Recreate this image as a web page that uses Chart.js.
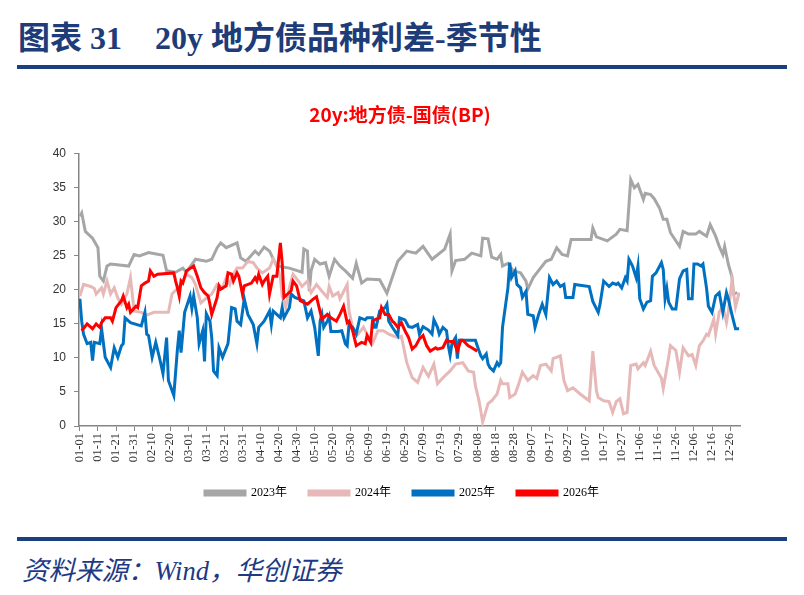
<!DOCTYPE html>
<html>
<head>
<meta charset="utf-8">
<script src="https://cdn.jsdelivr.net/npm/chart.js@4.4.1/dist/chart.umd.min.js"></script>
<style>
  body { margin: 0; background: #fff; }
  #page { position: relative; width: 804px; height: 595px; overflow: hidden; }
  #titre { position: absolute; left: 18px; top: 12px; font: bold 32px "Liberation Serif", "Noto Sans CJK SC"; color: #1d3c78; white-space: nowrap; }
  #titre span { margin-left: 33px; }
  .barre { position: absolute; left: 17px; width: 770px; height: 4px; background: #1a3f82; }
  #fonte { position: absolute; left: 22px; top: 549px; font: italic 26.5px "Liberation Serif", "Noto Sans CJK SC"; color: #1e3a84; white-space: nowrap; }
  #boite { position: absolute; left: 0; top: 90px; width: 804px; height: 419px; }
</style>
</head>
<body>
<div id="page">
  <div id="titre">图表 31<span>20y 地方债品种利差-季节性</span></div>
  <div class="barre" style="top:65px"></div>
  <div id="boite"><canvas id="grafico" width="804" height="419"></canvas></div>
  <div class="barre" style="top:537px"></div>
  <div id="fonte">资料来源：Wind，华创证券</div>
</div>

<script>
// eixo x: dia do ano (calendario bissexto), rotulo a cada 10 dias
const tickDias = [0, 10, 20, 30, 40, 50, 60, 70, 80, 90, 100, 110, 120, 130, 140, 150, 160, 170, 180,
  190, 200, 210, 220, 230, 240, 250, 260, 270, 280, 290, 300, 310, 320, 330, 340, 350, 360];
const tickRotulos = ["01-01", "01-11", "01-21", "01-31", "02-10", "02-20", "03-01", "03-11", "03-21", "03-31",
  "04-10", "04-20", "04-30", "05-10", "05-20", "05-30", "06-09", "06-19", "06-29", "07-09", "07-19", "07-29",
  "08-08", "08-18", "08-28", "09-07", "09-17", "09-27", "10-07", "10-17", "10-27", "11-06", "11-16", "11-26",
  "12-06", "12-16", "12-26"];

const anos = ["2023年", "2024年", "2025年", "2026年"];

// 2023
const dias2023 = [0, 1, 3, 7, 10, 11, 13, 15, 17, 27,
  30, 33, 38, 46, 48, 53, 57, 59, 64, 70,
  73, 76, 78, 81, 87, 89, 92, 97, 99, 102,
  105, 109, 116, 123, 124, 126, 127, 128, 130, 133,
  136, 138, 141, 144, 147, 151, 153, 156, 159, 166,
  170, 176, 181, 186, 190, 195, 202, 205, 206, 208,
  213, 217, 222, 223, 226, 228, 231, 233, 234, 237,
  240, 244, 247, 248, 251, 253, 258, 261, 264, 267,
  270, 272, 283, 284, 286, 292, 297, 299, 303, 305,
  307, 309, 312, 313, 316, 318, 321, 323, 325, 327,
  332, 334, 337, 341, 343, 347, 349, 352, 354, 356,
  357, 359, 361, 362, 364];
const spread2023 = [30.8, 31.3, 28.6, 27.6, 26.2, 22, 21.3, 23.5, 23.8, 23.5,
  25.2, 25, 25.5, 25.1, 22.8, 22.6, 23.2, 22.6, 24.5, 24.2,
  24.5, 26.2, 26.9, 26.2, 26.9, 24.7, 24.2, 25.7, 25.2, 26.3,
  25.7, 23.5, 23.2, 22.6, 26, 25.7, 19.8, 22.8, 24.5, 23.8,
  24, 22, 24.5, 23.5, 22.8, 21.7, 23.9, 21, 21.6, 21.5,
  19.5, 24.2, 25.7, 25.4, 26.4, 24.5, 26, 28.2, 22.8, 24.3,
  24.5, 25.4, 25, 27.6, 27.5, 24.8, 24.5, 25.2, 23.5, 23.9,
  22.8, 22.5, 21.3, 20.1, 21.8, 22.5, 24.2, 24.5, 26.2, 25.2,
  25, 27.4, 27.4, 29.1, 27.8, 27.2, 28.2, 28.9, 28.7, 36.2,
  35, 35.5, 33.3, 34.2, 34, 33.4, 32, 30.4, 30.4, 28.4,
  26.4, 28.6, 28.2, 28.2, 28.6, 27.9, 29.6, 27.9, 26.4, 25.2,
  26.4, 23.8, 22, 19.4, 19.6];

// 2024
const dias2024 = [0, 2, 6, 8, 9, 12, 13, 15, 17, 19,
  21, 23, 26, 28, 30, 34, 37, 41, 49, 51,
  54, 57, 59, 62, 64, 67, 70, 73, 76, 79,
  81, 83, 84, 87, 90, 93, 96, 98, 101, 105,
  107, 109, 111, 112, 114, 116, 118, 121, 123, 126,
  128, 131, 134, 137, 138, 140, 143, 144, 148, 149,
  151, 154, 157, 159, 162, 165, 168, 171, 176, 178,
  181, 184, 187, 190, 193, 196, 198, 201, 205, 208,
  212, 215, 218, 219, 221, 223, 226, 228, 231, 233,
  234, 237, 238, 241, 243, 245, 248, 251, 253, 255,
  258, 261, 262, 266, 268, 270, 273, 277, 282, 284,
  286, 287, 290, 293, 295, 297, 299, 301, 303, 305,
  308, 309, 312, 313, 315, 316, 318, 322, 323, 326,
  327, 330, 332, 334, 337, 339, 341, 343, 345, 347,
  348, 351, 352, 354, 356, 358, 359, 361, 363, 365];
const spread2024 = [19.1, 20.8, 20.5, 20.2, 19.4, 20.3, 19.4, 21.3, 19.4, 20.3,
  18.8, 17.9, 19.4, 21.8, 16.9, 16.7, 16.3, 16.7, 16.7, 19.4,
  20.2, 21.3, 22.3, 21.8, 20.8, 18.1, 18.8, 19.4, 20.8, 20.3,
  21.8, 20.8, 21.8, 23.2, 23.2, 24.2, 24, 23.2, 22.5, 23.2,
  24.5, 23.7, 21.8, 19.1, 17.4, 20.3, 22.3, 21.3, 20.5, 21.3,
  19.6, 20.8, 19.8, 18.9, 20.5, 19.1, 19.6, 18.7, 20.8, 16.9,
  14.5, 13.5, 14.5, 13.5, 12.1, 14, 14, 13.5, 13, 13.2,
  9.3, 7.1, 6.4, 8.6, 7.3, 9.1, 6.2, 7.1, 8.1, 9.1,
  9.3, 8.1, 7.9, 5.9, 3.7, 0.6, 3.3, 3.7, 4.7, 6.7,
  6.2, 6.2, 4.2, 4.7, 6.2, 7.9, 6.7, 7.4, 7, 8.9,
  9.1, 8.1, 9.9, 10.3, 6.7, 5.2, 5.6, 4.7, 3.7, 11,
  5.2, 4.2, 3.7, 3.6, 2, 3.6, 4, 1.8, 2, 8.9,
  9.1, 8.4, 9.3, 8.9, 10.3, 11, 8.9, 7, 5.5, 10.1,
  11.8, 11.1, 7.9, 11.5, 10.3, 10.5, 8.9, 11.8, 12.5, 13.5,
  13.3, 15.7, 13.5, 16.7, 17.6, 15.2, 16.7, 21.3, 17.5, 19.6];

// 2025
const dias2025 = [0, 1, 2, 4, 6, 7, 8, 11, 12, 14,
  17, 19, 21, 23, 24, 25, 28, 34, 36, 37,
  38, 40, 42, 44, 46, 48, 49, 52, 54, 55,
  56, 58, 61, 62, 63, 65, 66, 68, 69, 70,
  72, 73, 74, 76, 77, 79, 82, 84, 86, 87,
  89, 91, 93, 96, 98, 99, 102, 105, 106, 107,
  109, 111, 112, 113, 116, 117, 119, 124, 126, 128,
  130, 132, 133, 134, 135, 137, 138, 139, 143, 145,
  147, 148, 149, 151, 153, 155, 158, 159, 162, 163,
  164, 166, 169, 170, 171, 173, 176, 177, 180, 182,
  184, 187, 188, 190, 193, 195, 196, 198, 199, 201,
  203, 204, 205, 206, 208, 209, 210, 212, 215, 219,
  220, 222, 223, 225, 226, 227, 229, 231, 232, 233,
  234, 237, 238, 239, 241, 242, 244, 245, 247, 248,
  251, 252, 254, 256, 258, 260, 262, 264, 266, 268,
  269, 273, 274, 282, 284, 287, 288, 290, 293, 295,
  297, 298, 300, 302, 303, 304, 306, 308, 309, 310,
  312, 314, 316, 317, 319, 322, 323, 324, 325, 326,
  328, 330, 332, 334, 336, 337, 339, 340, 342, 344,
  345, 347, 348, 350, 352, 354, 356, 358, 359, 361,
  363, 365];
const spread2025 = [18.7, 15.4, 13.5, 12.1, 12.3, 9.6, 12.3, 12.1, 14.3, 10.1,
  8.6, 11.5, 10.1, 11.8, 12.1, 15.9, 15.2, 14.7, 16.7, 13.5,
  13.3, 10.1, 12.3, 10.1, 7.7, 13, 6.7, 4.5, 11.3, 14,
  10.8, 16.7, 19.1, 17.3, 19.1, 15.9, 12.1, 14, 9.5, 16.5,
  15.4, 13, 8.1, 7.4, 11.5, 10.1, 12.1, 17.4, 17.2, 15.4,
  14.9, 18.7, 16.4, 14.9, 12.1, 14.5, 15.4, 16.9, 14.9, 16.9,
  16.4, 15.9, 17.4, 15.9, 17.4, 19.4, 18.9, 18.4, 15.9, 16.9,
  14.5, 10.3, 15.4, 16.4, 14.5, 15.4, 16.1, 13.9, 13.9, 14,
  12.1, 11.8, 14.9, 14.5, 13.5, 15.9, 15.6, 15.9, 15.9, 14.5,
  14.5, 16.9, 17.4, 17.9, 15.4, 14.5, 13.3, 15.9, 15.6, 14.6,
  14.5, 14.9, 13.5, 14.6, 14.1, 13.5, 15.6, 14.5, 13.5, 14.5,
  14, 11.8, 10.4, 12.1, 13, 9.9, 12.6, 12.6, 12.6, 12.6,
  11.8, 10.3, 9.9, 10.6, 9.1, 8.6, 8.1, 9.3, 8.9, 9.3,
  14.5, 20.3, 24, 21.8, 22.8, 20.8, 20.3, 18.9, 19.8, 16.4,
  16.2, 14.5, 16.4, 17.9, 16.4, 21.8, 20.8, 21.3, 20.5, 20.8,
  18.9, 18.9, 20.8, 20.5, 18.3, 16.7, 17.9, 21.3, 20.5, 21,
  20.8, 21, 20.3, 21.8, 21.3, 24.5, 23.5, 21.8, 23.5, 18.7,
  17.2, 18.2, 18.4, 22, 22.5, 24, 23, 18.7, 20.2, 18.2,
  17.2, 17.2, 21.6, 22.8, 23, 18.7, 18.7, 23.8, 23.8, 23.5,
  23.8, 20.2, 17.6, 16.7, 19.1, 19.6, 16.7, 19.6, 18.7, 16.4,
  14.3, 14.3];

// 2026
const dias2026 = [1, 4, 7, 9, 11, 12, 14, 17, 18, 20,
  23, 24, 26, 27, 28, 31, 32, 34, 36, 38,
  39, 41, 43, 52, 53, 54, 55, 56, 57, 59,
  63, 65, 67, 69, 71, 72, 73, 76, 77, 78,
  81, 82, 84, 85, 87, 88, 90, 91, 95, 97,
  98, 99, 101, 102, 104, 105, 107, 109, 111, 112,
  113, 115, 117, 118, 120, 122, 126, 129, 131, 134,
  137, 139, 142, 144, 146, 148, 149, 151, 153, 156,
  158, 159, 161, 162, 164, 166, 167, 169, 171, 173,
  174, 176, 178, 180, 182, 184, 186, 188, 190, 192,
  194, 197, 198, 201, 203, 205, 207, 209, 211, 212,
  215, 217, 220];
const spread2026 = [14, 15, 14.3, 15, 14.5, 15.2, 15.9, 15.9, 15.4, 17.4,
  18.4, 19.1, 17.4, 17.9, 16.7, 17.6, 17.4, 20.6, 21, 21.3,
  22.8, 22, 22.3, 22.5, 21.3, 20.3, 19.1, 21.3, 21, 22.8,
  23.5, 22, 20.3, 19.6, 19.1, 17.9, 16.4, 18.9, 20.6, 20.1,
  20.6, 22.5, 22.3, 21.3, 22.5, 22, 19.4, 20.6, 21, 21.8,
  21.3, 22.3, 20.8, 21.3, 22, 19.4, 22, 22, 26.9, 24,
  18.9, 19.4, 19.9, 21.3, 20.6, 18.4, 17.9, 18.6, 19, 15.7,
  16.4, 15.9, 15.4, 16.4, 17.6, 15.2, 15.4, 14, 11.8, 12.3,
  12.1, 13.3, 12.3, 15.4, 15.7, 15.9, 17.4, 16.4, 16.4, 15.4,
  15.2, 14.5, 15.2, 14, 13, 11.3, 11.8, 12.8, 13.3, 11.8,
  11, 11.5, 11.3, 11.5, 12.6, 12.4, 12.4, 11, 12.6, 12.6,
  11.8, 11.5, 11];

const cores = ["#a6a6a6", "#e6b9b8", "#0070c0", "#ff0000"];

function serie(dias, valores) {
  return dias.map((d, i) => ({ x: d, y: valores[i] }));
}

const series = [
  serie(dias2023, spread2023),
  serie(dias2024, spread2024),
  serie(dias2025, spread2025),
  serie(dias2026, spread2026)
];

const corEixo = "#868686";

// empurra legenda e titulo um pouco para a direita (como no original)
const desloca = {
  id: "desloca",
  afterLayout(chart) {
    chart.legend.left += 15;
    chart.legend.right += 15;
    chart.titleBlock.left += 13;
    chart.titleBlock.right += 13;
  }
};

new Chart(document.getElementById("grafico"), {
  type: "line",
  data: {
    datasets: series.map((dados, i) => ({
      label: anos[i],
      data: dados,
      borderColor: cores[i],
      backgroundColor: cores[i],
      borderWidth: 3,
      pointRadius: 0,
      tension: 0,
      order: 4 - i   // 2026 por cima
    }))
  },
  options: {
    responsive: false,
    animation: false,
    layout: { padding: { left: 34, right: 64, top: 0, bottom: 0 } },
    plugins: {
      tooltip: { enabled: false },
      title: {
        display: true,
        text: "20y:地方债-国债(BP)",
        color: "#ff0000",
        font: { family: "Noto Sans CJK SC", size: 19, weight: "bold" },
        padding: { top: 13, bottom: 28 }
      },
      legend: {
        position: "bottom",
        labels: {
          boxWidth: 40,
          boxHeight: 4,
          padding: 22,
          color: "#000",
          font: { family: "'Liberation Serif', 'Noto Sans CJK SC'", size: 12 },
          sort: (a, b) => a.datasetIndex - b.datasetIndex
        }
      }
    },
    scales: {
      x: {
        type: "linear",
        min: -0.5,
        max: 365.5,
        afterBuildTicks: (escala) => { escala.ticks = tickDias.map(v => ({ value: v })); },
        afterFit: (escala) => { escala.height = 39; },
        ticks: {
          autoSkip: false,
          minRotation: 90,
          maxRotation: 90,
          padding: 2,
          color: "#333",
          font: { family: "Liberation Serif", size: 12.5 },
          callback: (v) => tickRotulos[tickDias.indexOf(v)]
        },
        grid: { display: true, drawOnChartArea: false, drawTicks: true, tickLength: 5, color: corEixo },
        border: { display: true, color: corEixo, width: 1.5 }
      },
      y: {
        min: 0,
        max: 40,
        afterFit: (escala) => { escala.width = 45; },
        ticks: {
          stepSize: 5,
          padding: 8,
          color: "#333",
          font: { family: "Liberation Sans", size: 12 }
        },
        grid: { display: true, drawOnChartArea: false, drawTicks: true, tickLength: 5, color: corEixo },
        border: { display: true, color: corEixo, width: 1.5 }
      }
    }
  },
  plugins: [desloca]
});
</script>
</body>
</html>
